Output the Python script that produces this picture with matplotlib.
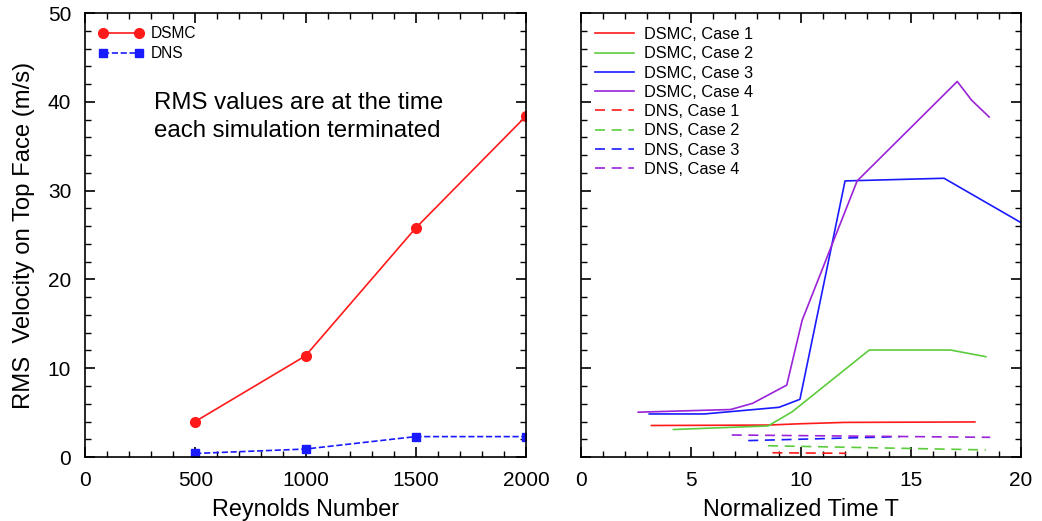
import matplotlib
matplotlib.use('Agg')
import matplotlib.pyplot as plt
from matplotlib.ticker import MultipleLocator

plt.rcParams['font.family'] = ['Liberation Sans', 'DejaVu Sans']

# final RMS velocity vs Reynolds number
reynolds = [500, 1000, 1500, 2000]
rms_dsmc = [4.0, 11.4, 25.8, 38.4]
rms_dns = [0.4, 0.9, 2.3, 2.3]

# RMS velocity history vs normalized time
t_dsmc1 = [3.2, 8.5, 10.0, 12.0, 17.9]
v_dsmc1 = [3.55, 3.6, 3.75, 3.9, 3.95]
t_dsmc2 = [4.2, 8.5, 9.6, 13.1, 16.8, 18.4]
v_dsmc2 = [3.1, 3.5, 5.1, 12.05, 12.05, 11.3]
t_dsmc3 = [3.1, 5.6, 9.0, 9.95, 12.0, 16.5, 20.0]
v_dsmc3 = [4.85, 4.85, 5.6, 6.5, 31.1, 31.4, 26.4]
t_dsmc4 = [2.6, 6.8, 7.8, 9.35, 10.05, 12.55, 17.1, 17.75, 18.55]
v_dsmc4 = [5.05, 5.35, 6.05, 8.1, 15.4, 31.1, 42.3, 40.2, 38.3]
t_dns1 = [8.7, 12.05]
v_dns1 = [0.48, 0.42]
t_dns2 = [8.5, 18.4]
v_dns2 = [1.27, 0.8]
t_dns3 = [7.6, 14.5]
v_dns3 = [1.85, 2.3]
t_dns4 = [6.85, 18.6]
v_dns4 = [2.48, 2.22]

red = '#ff1a1a'
green = '#5ccc3c'
blue = '#1a1aff'
purple = '#9a22d8'

fig = plt.figure(figsize=(10.42, 5.21), dpi=100)
ax1 = fig.add_axes([0.0816, 0.1228, 0.4232, 0.852])
ax2 = fig.add_axes([0.5576, 0.1228, 0.4223, 0.852])

ax1.plot(reynolds, rms_dsmc, '-o', color=red, lw=1.2, ms=7, label='DSMC')
ax1.plot(reynolds, rms_dns, '--s', color=blue, lw=1.2, ms=6, label='DNS')
ax1.set_xlim(0, 2000)
ax1.set_ylim(0, 50)
ax1.xaxis.set_major_locator(MultipleLocator(500))
ax1.xaxis.set_minor_locator(MultipleLocator(100))
ax1.set_xlabel('Reynolds Number', fontsize=16.8, labelpad=6)
ax1.set_ylabel('RMS  Velocity on Top Face (m/s)', fontsize=17.2, labelpad=9)
ax1.text(312, 39.9, 'RMS values are at the time', fontsize=17.3, va='center')
ax1.text(312, 36.7, 'each simulation terminated', fontsize=17.3, va='center')
ax1.legend(loc='upper left', frameon=False, fontsize=11.2, handlelength=2.9,
           numpoints=2, borderaxespad=0.55, borderpad=0.3, labelspacing=0.3,
           handletextpad=0.5)

ax2.plot(t_dsmc1, v_dsmc1, '-', color=red, lw=1.2, label='DSMC, Case 1')
ax2.plot(t_dsmc2, v_dsmc2, '-', color=green, lw=1.2, label='DSMC, Case 2')
ax2.plot(t_dsmc3, v_dsmc3, '-', color=blue, lw=1.2, label='DSMC, Case 3')
ax2.plot(t_dsmc4, v_dsmc4, '-', color=purple, lw=1.2, label='DSMC, Case 4')
ax2.plot(t_dns1, v_dns1, '--', color=red, lw=1.2, dashes=(6, 4), label='DNS, Case 1')
ax2.plot(t_dns2, v_dns2, '--', color=green, lw=1.2, dashes=(6, 4), label='DNS, Case 2')
ax2.plot(t_dns3, v_dns3, '--', color=blue, lw=1.2, dashes=(6, 4), label='DNS, Case 3')
ax2.plot(t_dns4, v_dns4, '--', color=purple, lw=1.2, dashes=(6, 4), label='DNS, Case 4')
ax2.set_xlim(0, 20)
ax2.set_ylim(0, 50)
ax2.xaxis.set_major_locator(MultipleLocator(5))
ax2.xaxis.set_minor_locator(MultipleLocator(1))
ax2.set_yticklabels([])
ax2.set_xlabel('Normalized Time T', fontsize=16.8, labelpad=6)
ax2.legend(loc='upper left', frameon=False, fontsize=11.8, handlelength=2.4,
           borderaxespad=0.55, borderpad=0.3, labelspacing=0.26,
           handletextpad=0.6)

for ax in (ax1, ax2):
    ax.yaxis.set_major_locator(MultipleLocator(10))
    ax.yaxis.set_minor_locator(MultipleLocator(2))
    ax.tick_params(which='both', direction='in', top=True, right=True, labelsize=15)
    ax.tick_params(which='major', length=7, width=1.2)
    ax.tick_params(which='minor', length=4, width=1)
    ax.tick_params(axis='x', which='major', pad=10)
    ax.tick_params(axis='y', which='major', pad=10)
    for s in ax.spines.values():
        s.set_linewidth(1.2)

plt.savefig('out.png', dpi=100)
